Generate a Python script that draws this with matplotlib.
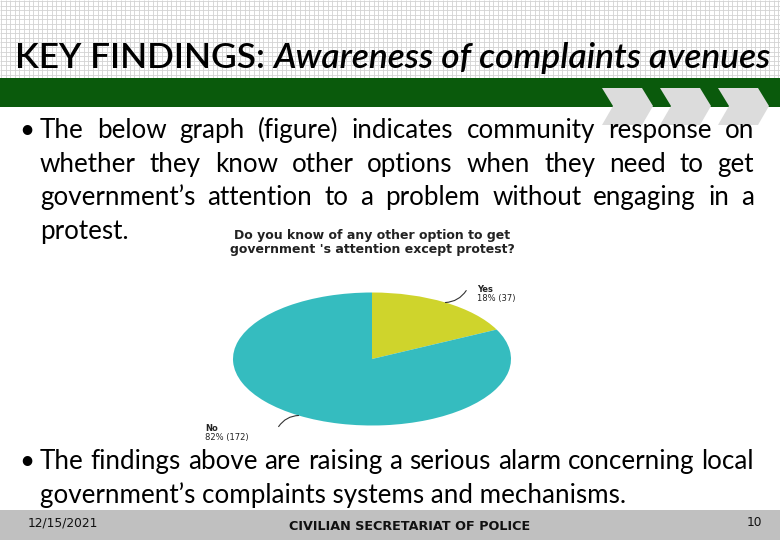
import matplotlib
matplotlib.use('Agg')
import matplotlib.pyplot as plt
from matplotlib.patches import Polygon, Rectangle
from matplotlib.collections import LineCollection
import numpy as np

# ---------------- data ----------------
labels = ['Yes', 'No']
counts = [37, 172]
colors = ['#cfd42c', '#35bcbf']
question = ["Do you know of any other option to get",
            "government 's attention except protest?"]
title_a = "KEY FINDINGS: "
title_b = "Awareness of complaints avenues"
bullet1 = ["The below graph (figure) indicates community response on",
           "whether they know other options when they need to get",
           "government\u2019s attention to a problem without engaging in a",
           "protest."]
bullet2 = ["The findings above are raising a serious alarm concerning local",
           "government\u2019s complaints systems and mechanisms."]
footer_date = "12/15/2021"
footer_org = "CIVILIAN SECRETARIAT OF POLICE"
footer_page = "10"

# ---------------- figure ----------------
W, H = 780, 540
fig = plt.figure(figsize=(7.8, 5.4), dpi=100)
fig.patch.set_facecolor('white')
bg = fig.add_axes([0, 0, 1, 1])
bg.set_xlim(0, W)
bg.set_ylim(H, 0)
bg.axis('off')
renderer = fig.canvas.get_renderer()

# header grid texture
segs = [[(x, 0), (x, 78)] for x in np.arange(1, W, 4.6)]
segs += [[(0, y), (W, y)] for y in np.arange(1, 78, 4.6)]
bg.add_collection(LineCollection(segs, colors='#d2d2d2', linewidths=0.6, zorder=0))

# green band
bg.add_patch(Rectangle((0, 78), W, 29, facecolor='#0a5a0c', edgecolor='none', zorder=1))
# chevrons
for x0 in [602, 660, 718]:
    pts = [(x0, 88), (x0 + 40, 88), (x0 + 51, 106), (x0 + 40, 125), (x0, 125), (x0 + 11, 106)]
    bg.add_patch(Polygon(pts, closed=True, facecolor='#dcdcdc', edgecolor='none', zorder=2))

# footer band
bg.add_patch(Rectangle((0, 510), W, 30, facecolor='#c0c0c0', edgecolor='none', zorder=1))

BODY = ['Lato', 'DejaVu Sans']

def width_of(t):
    return t.get_window_extent(renderer).width

# title, fit to width
ta = bg.text(15, 68, title_a, fontsize=30, family=BODY, fontweight='semibold', va='baseline', zorder=5)
tb = bg.text(15, 68, title_b, fontsize=30, family=BODY, fontweight='semibold', style='italic', va='baseline', zorder=5)
tot = width_of(ta) + width_of(tb)
s = 30 * 755 / tot
ta.set_fontsize(s); tb.set_fontsize(s)
tb.set_x(15 + width_of(ta))

# body text size from second bullet first line
probe = bg.text(0, 0, bullet2[0], fontsize=14, family=BODY)
bsize = 14 * 712 / width_of(probe)
probe.remove()

def justify(line, y, x0=40, x1=754):
    words = line.split(' ')
    ts = [bg.text(0, y, w, fontsize=bsize, family=BODY, va='baseline', zorder=5) for w in words]
    ws = [width_of(t) for t in ts]
    gap = (x1 - x0 - sum(ws)) / (len(ws) - 1)
    x = x0
    for t, w in zip(ts, ws):
        t.set_x(x)
        x += w + gap

def paragraph(lines, y0, step=33.7):
    bg.text(19, y0, '\u2022', fontsize=bsize, family=BODY, va='baseline', zorder=5)
    for i, line in enumerate(lines):
        y = y0 + i * step
        if i < len(lines) - 1:
            justify(line, y)
        else:
            bg.text(40, y, line, fontsize=bsize, family=BODY, va='baseline', zorder=5)

paragraph(bullet1, 138)
paragraph(bullet2, 469)

# question title
bg.text(372, 235.5, question[0], fontsize=9, family='DejaVu Sans', fontweight='bold',
        color='#222222', ha='center', va='center', zorder=5)
bg.text(372, 249, question[1], fontsize=9, family='DejaVu Sans', fontweight='bold',
        color='#222222', ha='center', va='center', zorder=5)

# footer text
NARROW = ['Liberation Sans Narrow', 'DejaVu Sans']
bg.text(28, 523, footer_date, fontsize=8.8, family=NARROW, va='center', color='#111111', zorder=5)
bg.text(410, 526, footer_org, fontsize=9.2, family=NARROW, fontweight='bold', ha='center', va='center', color='#111111', zorder=5)
bg.text(762, 523, footer_page, fontsize=8.8, family=NARROW, ha='right', va='center', color='#111111', zorder=5)

# ---------------- pie ----------------
pax = fig.add_axes([233 / W, 1 - 425.5 / H, 278 / W, 133 / H])
pax.pie(counts, colors=colors, startangle=90, counterclock=False, radius=1,
        wedgeprops=dict(linewidth=0))
pax.set_aspect('auto')
pax.set_xlim(-1, 1)
pax.set_ylim(-1, 1)
pax.axis('off')

total = sum(counts)
cum = 0
label_cfg = {
    'Yes': dict(line=(15, 8.6), txt=(22.5, 9.5), txt2=(22.5, 3.0), rad=-0.25),
    'No': dict(line=(-14.4, -8.0), txt=(-67.5, -9.4), txt2=(-67.5, -15.9), rad=-0.25),
}
for lab, c in zip(labels, counts):
    frac = c / total
    ang = np.deg2rad(90 - 360 * (cum + frac / 2))
    cum += frac
    pt = (np.cos(ang), np.sin(ang))
    cfg = label_cfg[lab]
    pax.annotate('', xy=pt, xytext=cfg['line'], textcoords='offset points',
                 arrowprops=dict(arrowstyle='-', color='#333333', lw=0.8,
                                 connectionstyle='arc3,rad=%s' % cfg['rad'], shrinkA=0, shrinkB=0),
                 annotation_clip=False)
    pax.annotate(lab, xy=pt, xytext=cfg['txt'], textcoords='offset points',
                 fontsize=6, fontweight='bold', family='DejaVu Sans', color='#222222',
                 va='center', ha='left', annotation_clip=False)
    pax.annotate('%d%% (%d)' % (round(100 * frac), c), xy=pt, xytext=cfg['txt2'],
                 textcoords='offset points', fontsize=6, family='DejaVu Sans',
                 color='#222222', va='center', ha='left', annotation_clip=False)

fig.savefig('out.png', dpi=100)
